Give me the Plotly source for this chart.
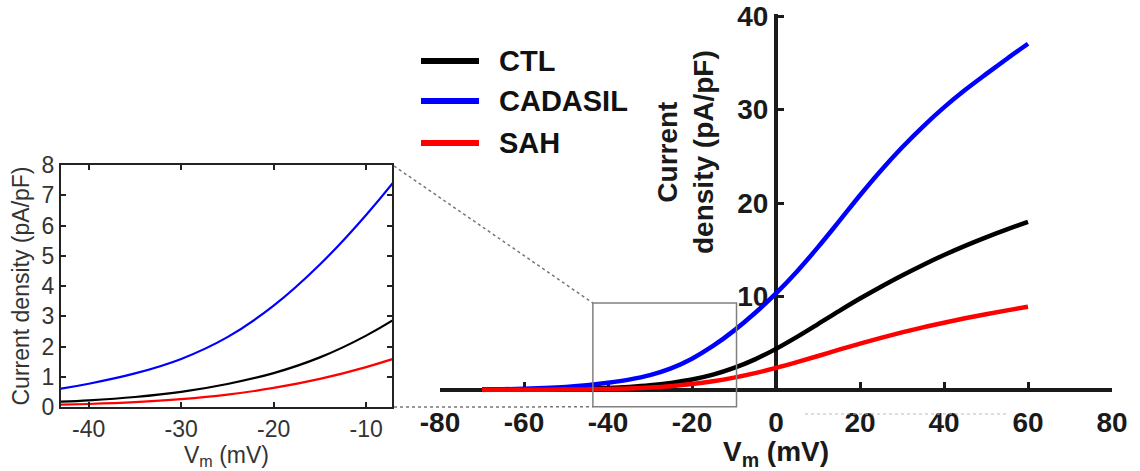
import plotly.graph_objects as go

W, H = 1140, 471

# ---------------- data ----------------
V = [-70, -65, -60, -55, -50, -45, -40, -35, -30, -25, -20, -15, -10, -5,
     0, 5, 10, 15, 20, 25, 30, 35, 40, 45, 50, 55, 60]
CTL = [0.02, 0.03, 0.05, 0.07, 0.10, 0.15, 0.22, 0.33, 0.50, 0.76, 1.12, 1.64, 2.36, 3.28,
       4.40, 5.68, 7.05, 8.44, 9.78, 11.05, 12.25, 13.38, 14.44, 15.42, 16.33, 17.18, 17.98]
CADASIL = [0.05, 0.08, 0.13, 0.21, 0.33, 0.51, 0.77, 1.11, 1.59, 2.31, 3.35, 4.71, 6.35, 8.23,
           10.33, 12.68, 15.28, 18.03, 20.83, 23.48, 25.93, 28.18, 30.23, 32.08, 33.78, 35.43, 37.03]
SAH = [0.01, 0.015, 0.02, 0.03, 0.045, 0.065, 0.10, 0.16, 0.26, 0.41, 0.63, 0.93, 1.32, 1.80,
       2.36, 2.98, 3.64, 4.31, 4.96, 5.58, 6.16, 6.70, 7.20, 7.67, 8.11, 8.52, 8.91]
SERIES = ["CTL", "CADASIL", "SAH"]
VALUES = [CTL, CADASIL, SAH]
COLORS = ["#000000", "#0000ff", "#ff0000"]

XTICKS = [-80, -60, -40, -20, 0, 20, 40, 60, 80]
YTICKS = [10, 20, 30, 40]
INSET_XTICKS = [-40, -30, -20, -10]
INSET_YTICKS = [0, 1, 2, 3, 4, 5, 6, 7, 8]
ZOOM_X = [-43.6, -9.4]
ZOOM_Y = [-1.8, 9.3]

# ---------------- geometry helpers (pixels -> paper) ----------------
def px(x):
    return x / W

def py(y):
    return 1 - y / H

MAIN_X0, MAIN_X1 = 440, 1112       # pixel positions of -80 and 80
MAIN_Y0PX, MAIN_PX_PER_UNIT = 390, 9.35

def mx(v):
    return px(MAIN_X0 + (v + 80) * (MAIN_X1 - MAIN_X0) / 160)

def my(v):
    return py(MAIN_Y0PX - v * MAIN_PX_PER_UNIT)

YMIN, YMAX = -0.25, 40.2

fig = go.Figure()

for name, vals, col in zip(SERIES, VALUES, COLORS):
    fig.add_trace(go.Scatter(x=V, y=vals, mode="lines", name=name,
                             line=dict(color=col, width=4.5, shape="spline"),
                             xaxis="x", yaxis="y", showlegend=False, hoverinfo="skip"))
for name, vals, col in zip(SERIES, VALUES, COLORS):
    fig.add_trace(go.Scatter(x=V, y=vals, mode="lines", name=name,
                             line=dict(color=col, width=2.2, shape="spline"),
                             xaxis="x2", yaxis="y2", showlegend=False, hoverinfo="skip"))

FAM = "Liberation Sans, Arial, sans-serif"
bold = dict(family=FAM, size=28, color="#1a1a1a", weight="bold")
reg = dict(family=FAM, size=23, color="#333333")
AXC = "#1a1a1a"

fig.update_layout(
    width=W, height=H,
    margin=dict(l=0, r=0, t=0, b=0, pad=0, autoexpand=False),
    paper_bgcolor="white", plot_bgcolor="rgba(0,0,0,0)",
    showlegend=False,
    xaxis=dict(domain=[px(MAIN_X0), px(MAIN_X1)], range=[-80, 80],
               anchor="free", position=py(MAIN_Y0PX), automargin=False,
               showline=True, linewidth=4, linecolor=AXC,
               ticks="inside", ticklen=6, tickwidth=3, tickcolor=AXC,
               tickvals=XTICKS, ticktext=[str(t) for t in XTICKS], ticklabelstandoff=6,
               tickfont=bold, showgrid=False, zeroline=False,
               layer="below traces",
               title=dict(text="V<sub>m</sub> (mV)", font=bold, standoff=0)),
    yaxis=dict(domain=[my(YMIN), my(YMAX)], range=[YMIN, YMAX],
               anchor="free", position=mx(0), automargin=False,
               showline=True, linewidth=4, linecolor=AXC,
               ticks="inside", ticklen=6, tickwidth=3, tickcolor=AXC,
               tickvals=YTICKS, ticktext=[str(t) for t in YTICKS],
               tickfont=bold, showgrid=False, zeroline=False,
               layer="below traces"),
    xaxis2=dict(domain=[px(61), px(392)], range=[-43, -7.2], anchor="y2", automargin=False,
                showline=True, linewidth=2, linecolor="#222222", mirror="allticks",
                ticks="inside", ticklen=5, tickwidth=1.5, tickcolor="#222222",
                tickvals=INSET_XTICKS, ticktext=[str(t) for t in INSET_XTICKS],
                tickfont=reg, showgrid=False, zeroline=False,
                title=dict(text="V<sub>m</sub> (mV)", font=reg, standoff=2)),
    yaxis2=dict(domain=[py(407), py(165)], range=[0, 8], anchor="x2", automargin=False,
                showline=True, linewidth=2, linecolor="#222222", mirror="allticks",
                ticks="inside", ticklen=5, tickwidth=1.5, tickcolor="#222222",
                tickvals=INSET_YTICKS, ticktext=[str(t) for t in INSET_YTICKS],
                tickfont=reg, showgrid=False, zeroline=False,
                title=dict(text="Current density (pA/pF)", font=reg, standoff=6)),
)

shapes = []
# zoom box on the main plot
shapes.append(dict(type="rect", xref="paper", yref="paper",
                   x0=mx(ZOOM_X[0]), x1=mx(ZOOM_X[1]), y0=my(ZOOM_Y[0]), y1=my(ZOOM_Y[1]),
                   line=dict(color="#808080", width=1.5)))
# dotted connectors from inset to zoom box
shapes.append(dict(type="line", xref="paper", yref="paper",
                   x0=px(394), y0=py(166), x1=mx(ZOOM_X[0]), y1=my(ZOOM_Y[1]),
                   line=dict(color="#777777", width=1.5, dash="dot")))
shapes.append(dict(type="line", xref="paper", yref="paper",
                   x0=px(394), y0=py(407), x1=mx(ZOOM_X[0]), y1=my(ZOOM_Y[0]),
                   line=dict(color="#777777", width=1.5, dash="dot")))
# faint dotted line under the positive x axis
shapes.append(dict(type="line", xref="paper", yref="paper",
                   x0=px(805), y0=py(414), x1=px(1007), y1=py(414),
                   line=dict(color="#bbbbbb", width=1, dash="dot")))

annotations = []
# legend
LEG_Y = [61, 101, 143]
for name, col, yy in zip(SERIES, COLORS, LEG_Y):
    shapes.append(dict(type="line", xref="paper", yref="paper",
                       x0=px(421), x1=px(479), y0=py(yy), y1=py(yy),
                       line=dict(color=col, width=6)))
    annotations.append(dict(text=name, xref="paper", yref="paper", x=px(497), y=py(yy),
                            xanchor="left", yanchor="middle", showarrow=False,
                            font=dict(family=FAM, size=29, color="#111111", weight="bold")))
# main y title
annotations.append(dict(text="Current<br>density (pA/pF)", xref="paper", yref="paper",
                        x=px(686), y=py(152), xanchor="center", yanchor="middle",
                        textangle=-90, showarrow=False, font=bold))

fig.update_layout(shapes=shapes, annotations=annotations)

fig.write_html("out.html")
